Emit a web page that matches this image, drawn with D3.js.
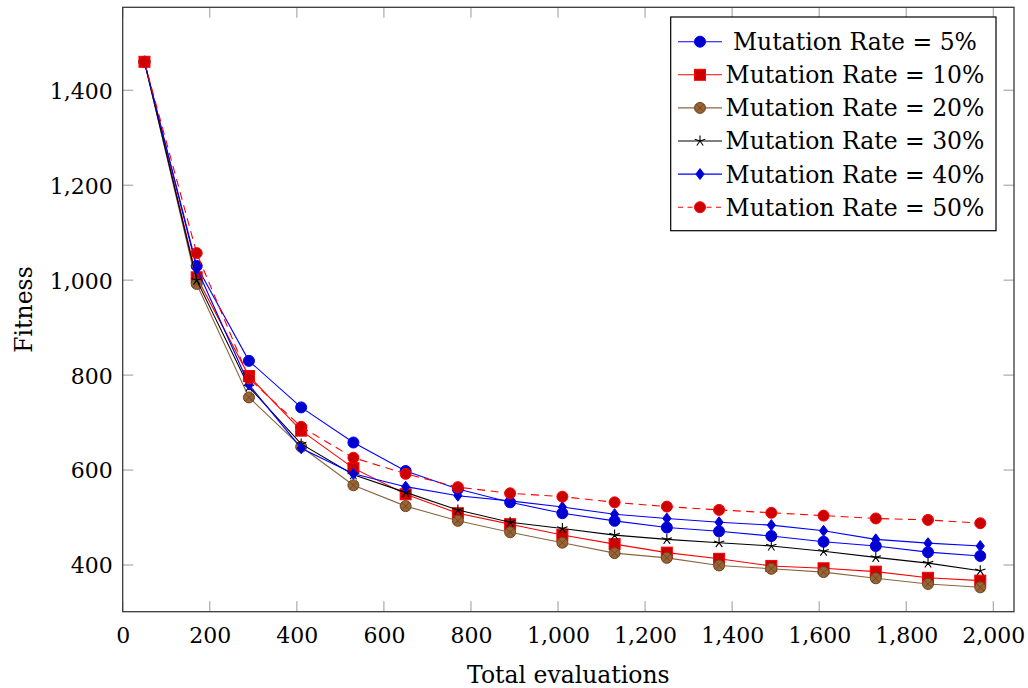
<!DOCTYPE html>
<html>
<head>
<meta charset="utf-8">
<script src="https://cdn.jsdelivr.net/npm/d3@7"></script>
<style>
  html, body { margin: 0; padding: 0; background: #fff; }
  svg { display: block; }
  text { font-family: "DejaVu Serif", "Liberation Serif", serif; fill: #000; }
</style>
</head>
<body>
<svg id="chart" width="1028" height="688"></svg>
<script>
// ---- data ----
const evaluations = [50, 170, 290, 410, 530, 650, 770, 890, 1010, 1130, 1250, 1370, 1490, 1610, 1730, 1850, 1970];
const rate5  = [1460, 1030, 830, 732, 658, 598, 560, 532, 509, 493, 479, 471, 461, 449, 440, 427, 419];
const rate10 = [1460, 1006, 798, 683, 604, 549, 509, 486, 463, 444, 426, 413, 398, 393, 386, 373, 367];
const rate20 = [1460, 992, 753, 649, 568, 524, 493, 469, 447, 425, 415, 399, 392, 385, 372, 360, 353];
const rate30 = [1460, 1000, 775, 655, 590, 553, 516, 490, 477, 463, 454, 447, 440, 429, 416, 404, 388];
const rate40 = [1460, 1025, 780, 646, 592, 565, 546, 535, 522, 507, 498, 490, 484, 472, 454, 446, 440];
const rate50 = [1460, 1057, 793, 691, 626, 592, 564, 551, 544, 532, 523, 516, 510, 504, 498, 495, 488];
const seriesLabels = ["Mutation Rate = 5%", "Mutation Rate = 10%", "Mutation Rate = 20%",
                      "Mutation Rate = 30%", "Mutation Rate = 40%", "Mutation Rate = 50%"];
const xTicks = [0, 200, 400, 600, 800, 1000, 1200, 1400, 1600, 1800, 2000];
const yTicks = [400, 600, 800, 1000, 1200, 1400];
const xTitle = "Total evaluations";
const yTitle = "Fitness";

// ---- styles ----
const styles = [
  { line: "#0000ff", fill: "#0000cc", mark: "circle", dash: null },
  { line: "#ff0000", fill: "#cc0000", mark: "square", dash: null },
  { line: "#8a6440", fill: "#9a6434", mark: "otimes", dash: null, markStroke: "#6b4522" },
  { line: "#000000", fill: "none",    mark: "star",   dash: null },
  { line: "#0000ff", fill: "#0000cc", mark: "diamond", dash: null },
  { line: "#ff0000", fill: "#cc0000", mark: "circle", dash: "8,5.5" }
];
const allSeries = [rate5, rate10, rate20, rate30, rate40, rate50];

const svg = d3.select("#chart");
const L = 122.7, R = 1014, T = 7.3, B = 611.7;
const x = d3.scaleLinear().domain([0, 2047.5]).range([L, R]);
const y = d3.scaleLinear().domain([301.6, 1574.8]).range([B, T]);

// ticks (all four sides, inward, gray)
const tickLen = 10.5;
const tg = svg.append("g").attr("stroke", "#aaaaaa").attr("stroke-width", 1.2);
xTicks.forEach(t => {
  tg.append("line").attr("x1", x(t)).attr("x2", x(t)).attr("y1", B).attr("y2", B - tickLen);
  tg.append("line").attr("x1", x(t)).attr("x2", x(t)).attr("y1", T).attr("y2", T + tickLen);
});
yTicks.forEach(t => {
  tg.append("line").attr("x1", L).attr("x2", L + tickLen).attr("y1", y(t)).attr("y2", y(t));
  tg.append("line").attr("x1", R).attr("x2", R - tickLen).attr("y1", y(t)).attr("y2", y(t));
});

// tick labels via axes (no lines)
const fmt = d3.format(",");
const xAxis = d3.axisBottom(x).tickValues(xTicks).tickFormat(fmt).tickSize(0).tickPadding(0);
const gx = svg.append("g").attr("transform", `translate(0,${B})`).call(xAxis);
gx.select(".domain").remove();
gx.selectAll("text").attr("font-size", 22).attr("dy", null).attr("y", 31)
  .attr("font-family", "DejaVu Serif").attr("fill", "#000");

const yAxis = d3.axisLeft(y).tickValues(yTicks).tickFormat(fmt).tickSize(0).tickPadding(0);
const gy = svg.append("g").attr("transform", `translate(${L},0)`).call(yAxis);
gy.select(".domain").remove();
gy.selectAll("text").attr("font-size", 22).attr("x", -10).attr("dy", "0.36em")
  .attr("font-family", "DejaVu Serif").attr("fill", "#000");

// clip
svg.append("clipPath").attr("id", "clip").append("rect")
  .attr("x", L).attr("y", T).attr("width", R - L).attr("height", B - T);

const MS = 5.5;
function drawMarker(g, cx, cy, st) {
  const stroke = st.markStroke || st.line;
  if (st.mark === "circle") {
    g.append("circle").attr("cx", cx).attr("cy", cy).attr("r", MS)
      .attr("fill", st.fill).attr("stroke", st.line).attr("stroke-width", 1);
  } else if (st.mark === "square") {
    g.append("rect").attr("x", cx - MS).attr("y", cy - MS).attr("width", 2 * MS).attr("height", 2 * MS)
      .attr("fill", st.fill).attr("stroke", st.line).attr("stroke-width", 1);
  } else if (st.mark === "otimes") {
    g.append("circle").attr("cx", cx).attr("cy", cy).attr("r", MS)
      .attr("fill", st.fill).attr("stroke", stroke).attr("stroke-width", 1);
    const d = MS * Math.SQRT1_2;
    g.append("path").attr("d", `M${cx - d},${cy - d}L${cx + d},${cy + d}M${cx - d},${cy + d}L${cx + d},${cy - d}`)
      .attr("stroke", stroke).attr("stroke-width", 0.9).attr("fill", "none");
  } else if (st.mark === "star") {
    let p = "";
    for (let k = 0; k < 5; k++) {
      const a = -Math.PI / 2 + k * 2 * Math.PI / 5;
      p += `M${cx},${cy}L${cx + MS * Math.cos(a)},${cy + MS * Math.sin(a)}`;
    }
    g.append("path").attr("d", p).attr("stroke", st.line).attr("stroke-width", 1.1).attr("fill", "none");
  } else if (st.mark === "diamond") {
    const w = MS * 0.75;
    g.append("path").attr("d", `M${cx},${cy - MS}L${cx + w},${cy}L${cx},${cy + MS}L${cx - w},${cy}Z`)
      .attr("fill", st.fill).attr("stroke", st.line).attr("stroke-width", 1);
  }
}

const plot = svg.append("g").attr("clip-path", "url(#clip)");
const lineGen = d3.line().x(d => x(d[0])).y(d => y(d[1]));
allSeries.forEach((vals, i) => {
  const st = styles[i];
  const pts = evaluations.map((e, j) => [e, vals[j]]);
  const g = plot.append("g");
  g.append("path").attr("d", lineGen(pts)).attr("fill", "none")
    .attr("stroke", st.line).attr("stroke-width", 1.1)
    .attr("stroke-dasharray", st.dash);
  pts.forEach(p => drawMarker(g, x(p[0]), y(p[1]), st));
});

// frame
svg.append("rect").attr("x", L).attr("y", T).attr("width", R - L).attr("height", B - T)
  .attr("fill", "none").attr("stroke", "#3a3a3a").attr("stroke-width", 1.3);

// axis titles
svg.append("text").attr("x", (L + R) / 2).attr("y", 683).attr("text-anchor", "middle")
  .attr("font-size", 23.5).text(xTitle);
svg.append("text").attr("transform", `translate(32,${(T + B) / 2}) rotate(-90)`)
  .attr("text-anchor", "middle").attr("font-size", 23.5).text(yTitle);

// legend
const lg = svg.append("g");
const lx0 = 670.7, lx1 = 996, ly0 = 17, ly1 = 230.7;
lg.append("rect").attr("x", lx0).attr("y", ly0).attr("width", lx1 - lx0).attr("height", ly1 - ly0)
  .attr("fill", "#fff").attr("stroke", "#000").attr("stroke-width", 1.2);
const rowY0 = 41.7, rowStep = 33.1;
seriesLabels.forEach((lab, i) => {
  const st = styles[i];
  const cy = rowY0 + i * rowStep;
  lg.append("line").attr("x1", 678).attr("x2", 722).attr("y1", cy).attr("y2", cy)
    .attr("stroke", st.line).attr("stroke-width", 1.1)
    .attr("stroke-dasharray", st.dash ? "5,4.5" : null);
  drawMarker(lg, 700, cy, st);
  lg.append("text").attr("x", 855).attr("y", cy).attr("dy", "0.36em")
    .attr("text-anchor", "middle").attr("font-size", 23.5).text(lab);
});
</script>
</body>
</html>
